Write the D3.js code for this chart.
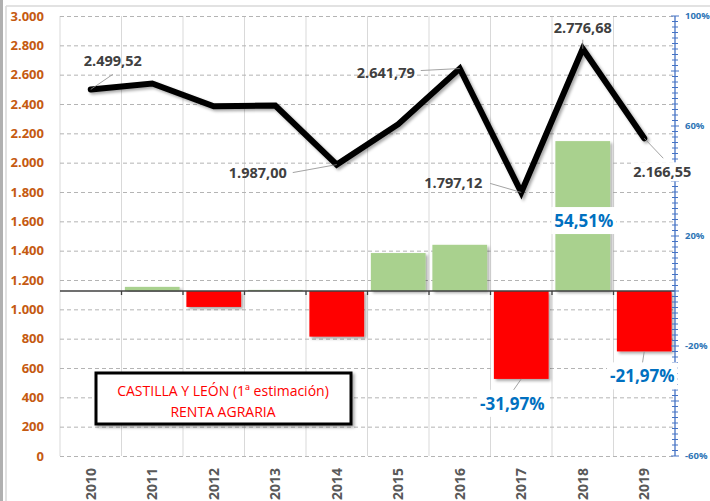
<!DOCTYPE html>
<html>
<head>
<meta charset="utf-8">
<script src="https://cdn.jsdelivr.net/npm/d3@7"></script>
<style>
  body { margin: 0; background: #fff; }
  svg { display: block; font-family: "Open Sans", "Liberation Sans", sans-serif; }
</style>
</head>
<body>
<svg id="chart" width="710" height="501"></svg>
<script>
// Data
const years = ["2010", "2011", "2012", "2013", "2014", "2015", "2016", "2017", "2018", "2019"];
const renta = [2499.52, 2540, 2385, 2390, 1987.00, 2262, 2641.79, 1797.12, 2776.68, 2166.55];
const variacion = [0, 1.5, -5.8, 0.4, -16.6, 13.8, 16.8, -31.97, 54.51, -21.97];
const leftTicks = [0, 200, 400, 600, 800, 1000, 1200, 1400, 1600, 1800, 2000, 2200, 2400, 2600, 2800, 3000];
const rightTicks = [-60, -20, 20, 60, 100];

// which points get a value label, and where it sits relative to the point
const lineLabels = [
  {i: 0, dx: 22, dy: -28, lx: 22, ly: -15},
  {i: 4, dx: -79, dy: 8, lx: -44, ly: 8},
  {i: 6, dx: -74, dy: 4, lx: -39, ly: 2},
  {i: 7, dx: -68, dy: -9, lx: -31, ly: -9},
  {i: 8, dx: 0, dy: -21, lx: 0, ly: -9},
  {i: 9, dx: 18, dy: 34, lx: 19, ly: 20}
];
const pctLabels = [
  {i: 7, dx: -9, dy: 25},
  {i: 8, dx: 1, dy: 80},
  {i: 9, dx: -2, dy: 25}
];

const fmtRenta = v => d3.format(",.2f")(v).replace(/,/g, "#").replace(".", ",").replace(/#/g, ".");
const fmtThousand = v => d3.format(",")(v).replace(/,/g, ".");
const fmtPct = v => d3.format(".2f")(v).replace("−", "-").replace(".", ",") + "%";

const svg = d3.select("#chart");

// shadow filter
const defs = svg.append("defs");
const f = defs.append("filter").attr("id", "shadow").attr("x", "-20%").attr("y", "-20%").attr("width", "140%").attr("height", "140%");
f.append("feDropShadow").attr("dx", 2).attr("dy", 2).attr("stdDeviation", 1.5)
  .attr("flood-color", "#000").attr("flood-opacity", 0.35);

// chart frame
svg.append("rect").attr("x", 0).attr("y", 0).attr("width", 3).attr("height", 501).attr("fill", "#b0b0b0");
svg.append("line").attr("x1", 6).attr("x2", 710).attr("y1", 6).attr("y2", 6).attr("stroke", "#d9d9d9").attr("stroke-width", 1.5);
svg.append("line").attr("x1", 6).attr("x2", 6).attr("y1", 6).attr("y2", 501).attr("stroke", "#d9d9d9").attr("stroke-width", 1.5);

const plot = {left: 60, right: 675, top: 16, bottom: 456};

const x = d3.scaleBand().domain(years).range([plot.left, plot.right])
  .paddingInner(0.11).paddingOuter(0.055);
const yL = d3.scaleLinear().domain([0, 3000]).range([plot.bottom, plot.top]);
const yR = d3.scaleLinear().domain([-60, 100]).range([plot.bottom, plot.top]);
const step = x.step();
const bandStart = d => x(d) - step * x.paddingInner() / 2;

// vertical gridlines
svg.append("g").selectAll("line")
  .data(years.slice(1).concat(["__start"]))
  .join("line")
  .attr("x1", d => d === "__start" ? plot.left : bandStart(d))
  .attr("x2", d => d === "__start" ? plot.left : bandStart(d))
  .attr("y1", plot.top).attr("y2", plot.bottom)
  .attr("stroke", "#d9d9d9").attr("stroke-width", 1);

// horizontal gridlines
svg.append("g").selectAll("line")
  .data(leftTicks)
  .join("line")
  .attr("x1", plot.left).attr("x2", plot.right)
  .attr("y1", d => yL(d) + 0.5).attr("y2", d => yL(d) + 0.5)
  .attr("stroke", "#b4b4b4").attr("stroke-dasharray", "4,3").attr("stroke-width", 1);

// left axis
const axL = svg.append("g").attr("transform", `translate(${plot.left},0)`)
  .call(d3.axisLeft(yL).tickValues(leftTicks).tickFormat(fmtThousand).tickSize(0).tickPadding(16));
axL.select(".domain").remove();
axL.selectAll("text").attr("fill", "#C55A11").style("font-size", "13px").style("font-weight", "bold")
  .style("font-family", "'Open Sans', sans-serif");

// bars
svg.append("g").selectAll("rect")
  .data(years.map((d, i) => ({year: d, v: variacion[i]})).filter(d => d.v !== 0))
  .join("rect")
  .attr("x", d => x(d.year))
  .attr("width", x.bandwidth())
  .attr("y", d => yR(Math.max(0, d.v)))
  .attr("height", d => Math.abs(yR(d.v) - yR(0)))
  .attr("fill", d => d.v >= 0 ? "#A9D18E" : "#FF0000")
  .attr("filter", "url(#shadow)");

// zero axis for bars
svg.append("line").attr("x1", plot.left).attr("x2", plot.right)
  .attr("y1", yR(0)).attr("y2", yR(0)).attr("stroke", "#404040").attr("stroke-width", 1.3);
svg.append("g").selectAll("line").data(years.slice(1)).join("line")
  .attr("x1", d => bandStart(d)).attr("x2", d => bandStart(d))
  .attr("y1", yR(0)).attr("y2", yR(0) + 4).attr("stroke", "#404040").attr("stroke-width", 1.3);

// line
const line = d3.line().x((d, i) => x(years[i]) + x.bandwidth() / 2).y(d => yL(d));
svg.append("path").datum(renta)
  .attr("d", line)
  .attr("fill", "none").attr("stroke", "#000").attr("stroke-width", 6)
  .attr("stroke-linejoin", "miter").attr("stroke-linecap", "round")
  .attr("filter", "url(#shadow)");

// right axis
const minor = d3.range(-60, 101, 2);
const axR = svg.append("g").attr("transform", `translate(${plot.right},0)`);
axR.append("line").attr("x1", 0).attr("x2", 0).attr("y1", yR(-60)).attr("y2", yR(100))
  .attr("stroke", "#4472C4").attr("stroke-width", 1.3);
axR.selectAll(".mt").data(minor).join("line").attr("class", "mt")
  .attr("x1", d => d % 20 === 0 ? -4 : -3).attr("x2", d => d % 20 === 0 ? 4 : 3)
  .attr("y1", d => yR(d)).attr("y2", d => yR(d))
  .attr("stroke", "#4472C4").attr("stroke-width", 1);
axR.selectAll("text").data(rightTicks).join("text")
  .attr("x", 10).attr("y", d => yR(d)).attr("dy", "0.35em")
  .attr("fill", "#2E75B6").style("font-size", "9.5px").style("font-weight", "bold")
  .text(d => d + "%");

// line value labels
const pointX = i => x(years[i]) + x.bandwidth() / 2;
const ll = svg.append("g");
lineLabels.forEach(l => {
  const px = pointX(l.i), py = yL(renta[l.i]);
  ll.append("line").attr("x1", px).attr("y1", py).attr("x2", px + l.lx).attr("y2", py + l.ly)
    .attr("stroke", "#8c8c8c").attr("stroke-width", 0.8);
  const t = ll.append("text").attr("x", px + l.dx).attr("y", py + l.dy).attr("dy", "0.35em")
    .attr("text-anchor", "middle").attr("fill", "#404040")
    .style("font-size", "14.5px").style("font-weight", "bold")
    .text(fmtRenta(renta[l.i]));
  if (l.i === 9) {
    const b = t.node().getBBox();
    ll.insert("rect", () => t.node()).attr("x", b.x - 2).attr("y", b.y).attr("width", b.width + 4).attr("height", b.height)
      .attr("fill", "#fff");
  }
});

// percentage labels
const pl = svg.append("g");
pctLabels.forEach(l => {
  const v = variacion[l.i];
  const px = x(years[l.i]) + x.bandwidth() / 2, py = yR(v);
  if (v < 0) {
    pl.append("line").attr("x1", px).attr("y1", py).attr("x2", px + l.dx).attr("y2", py + l.dy - 12)
      .attr("stroke", "#8c8c8c").attr("stroke-width", 0.8);
  }
  const t = pl.append("text").attr("x", px + l.dx).attr("y", py + l.dy).attr("dy", "0.35em")
    .attr("text-anchor", "middle").attr("fill", "#0070C0")
    .style("font-size", "17px").style("font-weight", "bold")
    .text(fmtPct(v));
  const b = t.node().getBBox();
  pl.insert("rect", () => t.node()).attr("x", b.x - 3).attr("y", b.y - 2).attr("width", b.width + 6).attr("height", b.height + 4)
    .attr("fill", "#fff");
});

// category labels
svg.append("g").selectAll("text").data(years).join("text")
  .attr("transform", d => `translate(${x(d) + x.bandwidth() / 2},468) rotate(-90)`)
  .attr("dy", "0.35em").attr("text-anchor", "end")
  .attr("fill", "#595959").style("font-size", "14px").style("font-weight", "bold")
  .text(d => d);

// title box
const box = svg.append("g");
box.append("rect").attr("x", 96).attr("y", 373).attr("width", 255).attr("height", 51)
  .attr("fill", "#fff").attr("stroke", "#000").attr("stroke-width", 3).attr("filter", "url(#shadow)");
box.append("text").attr("x", 223).attr("y", 391).attr("dy", "0.35em").attr("text-anchor", "middle")
  .attr("fill", "#FF0000").style("font-size", "14px").text("CASTILLA Y LEÓN (1ª estimación)");
box.append("text").attr("x", 223).attr("y", 412).attr("dy", "0.35em").attr("text-anchor", "middle")
  .attr("fill", "#FF0000").style("font-size", "14px").text("RENTA AGRARIA");
</script>
</body>
</html>
